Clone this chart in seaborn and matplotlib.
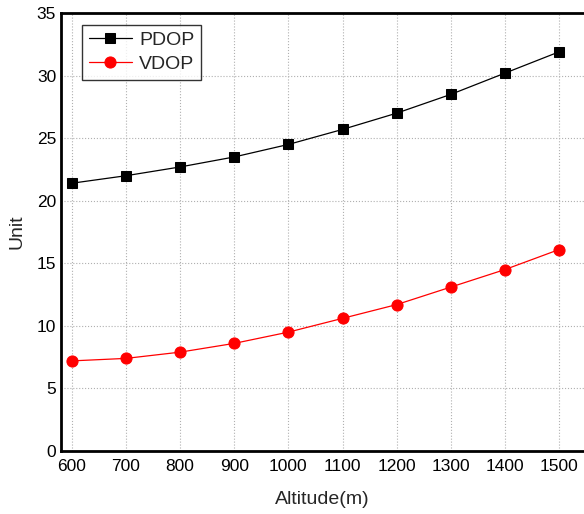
import matplotlib
matplotlib.use("Agg")
import matplotlib.pyplot as plt
import seaborn as sns
import pandas as pd
from matplotlib.ticker import MultipleLocator

# Data
altitude = [600, 700, 800, 900, 1000, 1100, 1200, 1300, 1400, 1500]
pdop = [21.4, 22.0, 22.7, 23.5, 24.5, 25.7, 27.0, 28.5, 30.2, 31.9]
vdop = [7.2, 7.4, 7.9, 8.6, 9.5, 10.6, 11.7, 13.1, 14.5, 16.1]

df = pd.DataFrame({"Altitude": altitude, "PDOP": pdop, "VDOP": vdop})

sns.set_style("white")
plt.rcParams["font.family"] = ["Liberation Sans", "DejaVu Sans"]

fig = plt.figure(figsize=(5.84, 5.14), dpi=100)
ax = fig.add_axes([0.1045, 0.1226, 0.8955, 0.852])

sns.lineplot(data=df, x="Altitude", y="PDOP", ax=ax, color="black", linewidth=0.9,
             marker="s", markersize=7, markeredgecolor="black", label="PDOP")
sns.lineplot(data=df, x="Altitude", y="VDOP", ax=ax, color="red", linewidth=0.9,
             marker="o", markersize=8, markeredgecolor="red", label="VDOP")

ax.set_xlim(580, 1546)
ax.set_ylim(0, 35)
ax.set_xticks(altitude)
ax.xaxis.set_minor_locator(MultipleLocator(50))
ax.yaxis.set_major_locator(MultipleLocator(5))
ax.yaxis.set_minor_locator(MultipleLocator(2.5))

ax.tick_params(which="major", direction="in", length=7, width=1.5, labelsize=12.5, colors="black")
ax.tick_params(which="minor", direction="in", length=4, width=1.5)
ax.tick_params(axis="x", pad=6)

ax.grid(True, which="major", linestyle=":", color="#b0b0b0", linewidth=0.8)

for side in ["left", "bottom", "top"]:
    ax.spines[side].set_linewidth(2)
    ax.spines[side].set_color("black")
ax.spines["right"].set_visible(False)

ax.set_xlabel("Altitude(m)", fontsize=14, labelpad=12)
ax.set_ylabel("Unit", fontsize=14, labelpad=8)

leg = ax.legend(loc="upper left", bbox_to_anchor=(0.04, 0.973), borderaxespad=0,
                fontsize=14, frameon=True, fancybox=False, edgecolor="black",
                borderpad=0.35, handlelength=2.2, labelspacing=0.3, handletextpad=0.4)
leg.get_frame().set_linewidth(1.0)

fig.savefig("out.png", dpi=100)
